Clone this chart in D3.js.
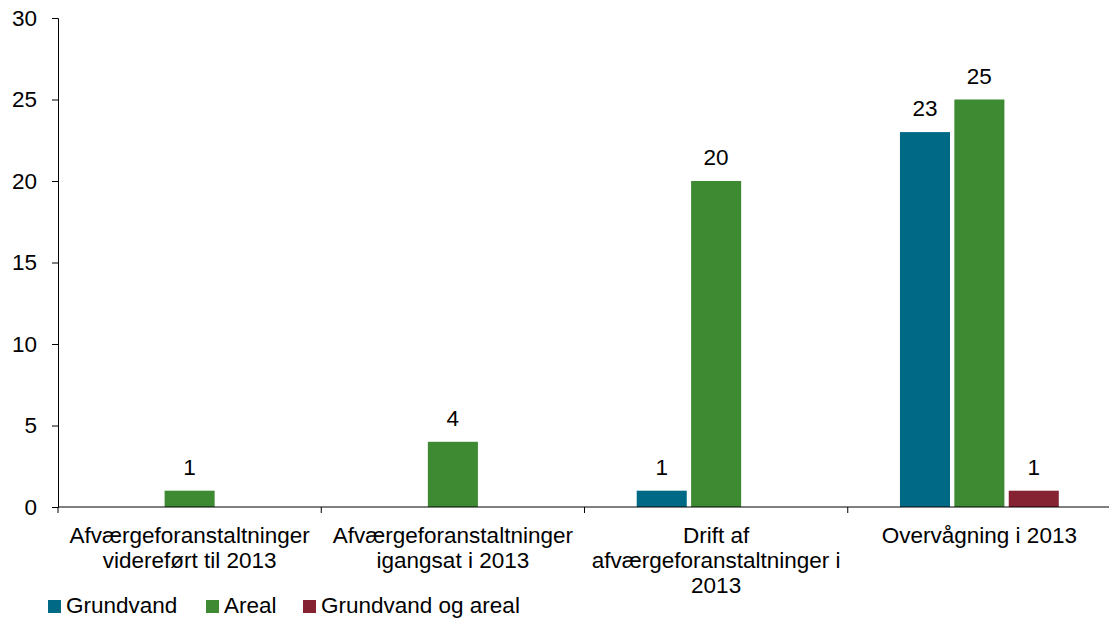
<!DOCTYPE html>
<html>
<head>
<meta charset="utf-8">
<script src="https://cdn.jsdelivr.net/npm/d3@7/dist/d3.min.js"></script>
<style>
  body { margin: 0; background: #fff; }
  text { font-family: "Liberation Sans", Arial, sans-serif; fill: #000; }
</style>
</head>
<body>
<div id="chart"></div>
<script>
// categories (each label split into its lines)
let categories = [
  ['Afværgeforanstaltninger', 'videreført til 2013'],
  ['Afværgeforanstaltninger', 'igangsat i 2013'],
  ['Drift af', 'afværgeforanstaltninger i', '2013'],
  ['Overvågning i 2013']
];
let seriesNames = ['Grundvand', 'Areal', 'Grundvand og areal'];
let grundvand = [0, 0, 1, 23];
let areal = [1, 4, 20, 25];
let grundvandOgAreal = [0, 0, 0, 1];
let yTicks = [0, 5, 10, 15, 20, 25, 30];
let colors = ['#006a86', '#3d8a33', '#852332'];

let width = 1109, height = 619;
let margin = { left: 58, right: -2, top: 18, bottom: 112 };
let fs = '22.5px';

let svg = d3.select('#chart').append('svg')
  .attr('width', width)
  .attr('height', height);

let x = d3.scaleBand()
  .domain(d3.range(categories.length))
  .range([margin.left, width - margin.right]);

let xInner = d3.scaleBand()
  .domain(d3.range(seriesNames.length))
  .range([0, x.bandwidth()])
  .paddingInner(0.08)
  .paddingOuter(0.96);

let y = d3.scaleLinear()
  .domain([0, 30])
  .range([height - margin.bottom, margin.top]);

// y axis
let yAxis = svg.append('g')
  .attr('transform', 'translate(' + margin.left + ',0)')
  .call(d3.axisLeft(y).tickValues(yTicks).tickSizeOuter(0).tickSize(6).tickPadding(15));
yAxis.select('.domain').attr('stroke', '#000');
yAxis.selectAll('.tick line').attr('stroke', '#000');
yAxis.selectAll('.tick text').style('font-size', fs).attr('fill', '#000');

let series = [grundvand, areal, grundvandOgAreal];
let rows = [];
series.forEach((vals, s) => {
  vals.forEach((v, c) => rows.push({ s: s, c: c, v: v }));
});
let shown = rows.filter((d) => d.v > 0);

// bars
svg.selectAll('rect.bar')
  .data(shown)
  .enter()
  .append('rect')
  .attr('class', 'bar')
  .attr('x', (d) => x(d.c) + xInner(d.s))
  .attr('width', xInner.bandwidth())
  .attr('y', (d) => y(d.v))
  .attr('height', (d) => y(0) - y(d.v))
  .attr('fill', (d) => colors[d.s]);

// value labels
svg.selectAll('text.val')
  .data(shown)
  .enter()
  .append('text')
  .attr('class', 'val')
  .attr('x', (d) => x(d.c) + xInner(d.s) + xInner.bandwidth() / 2)
  .attr('y', (d) => y(d.v) - 16)
  .attr('text-anchor', 'middle')
  .style('font-size', fs)
  .text((d) => d.v);

// x axis line and category ticks
svg.append('line')
  .attr('x1', margin.left).attr('x2', width)
  .attr('y1', y(0)).attr('y2', y(0))
  .attr('stroke', '#000');

let bounds = d3.range(categories.length + 1).map((i) => margin.left + i * x.step());
svg.selectAll('line.ctick')
  .data(bounds)
  .enter()
  .append('line')
  .attr('class', 'ctick')
  .attr('x1', (d) => d).attr('x2', (d) => d)
  .attr('y1', y(0)).attr('y2', y(0) + 6)
  .attr('stroke', '#000');

// category labels
let catG = svg.selectAll('text.cat')
  .data(categories)
  .enter()
  .append('text')
  .attr('class', 'cat')
  .attr('text-anchor', 'middle')
  .style('font-size', fs);
catG.selectAll('tspan')
  .data((d, i) => d.map((line, j) => ({ line: line, j: j, i: i })))
  .enter()
  .append('tspan')
  .attr('x', (d) => x(d.i) + x.bandwidth() / 2)
  .attr('y', (d) => 543 + d.j * 25)
  .text((d) => d.line);

// legend
let legendX = [48, 206, 303];
let leg = svg.selectAll('g.leg')
  .data(seriesNames)
  .enter()
  .append('g')
  .attr('class', 'leg')
  .attr('transform', (d, i) => 'translate(' + legendX[i] + ',600)');
leg.append('rect')
  .attr('width', 13).attr('height', 13)
  .attr('fill', (d, i) => colors[i]);
leg.append('text')
  .attr('x', 18).attr('y', 13)
  .style('font-size', fs)
  .text((d) => d);
</script>
</body>
</html>
